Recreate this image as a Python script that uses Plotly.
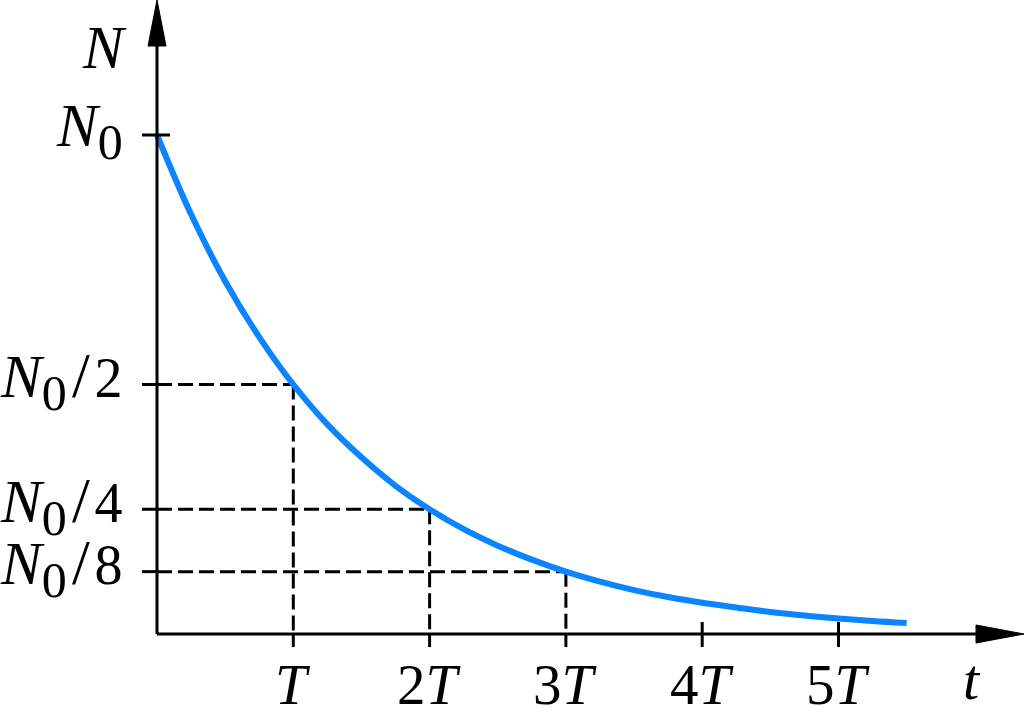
import plotly.graph_objects as go

# ---- data (in units of T and N0) ----
t_vals = [0, 0.25, 0.5, 0.75, 1, 1.25, 1.5, 1.75, 2, 2.25, 2.5, 2.75, 3,
          3.25, 3.5, 3.75, 4, 4.25, 4.5, 4.75, 5, 5.25, 5.5]
n_vals = [1.0, 0.841, 0.707, 0.595, 0.5, 0.42, 0.354, 0.297, 0.25, 0.21,
          0.177, 0.149, 0.125, 0.105, 0.088, 0.074, 0.0625, 0.053, 0.044,
          0.037, 0.031, 0.026, 0.022]
half_t = [1, 2, 3]                       # T, 2T, 3T
half_n = [0.5, 0.25, 0.125]              # N0/2, N0/4, N0/8
x_ticks = [1, 2, 3, 4, 5]
x_tick_labels = ["<i>T</i>", "2<i>T</i>", "3<i>T</i>", "4<i>T</i>", "5<i>T</i>"]
y_ticks = [1.0, 0.5, 0.25, 0.125]
y_tick_denoms = ["", "2", "4", "8"]

# pixel scales
PX_X = 136.3   # px per T
PX_Y = 499.0   # px per N0
W, H = 1024, 707
X0, Y0 = 157, 634  # origin in pixels

xr = [-X0 / PX_X, (W - X0) / PX_X]
yr = [-(H - Y0) / PX_Y, Y0 / PX_Y]


def dx(px):
    return px / PX_X


def dy(px):
    return px / PX_Y


fig = go.Figure()
BLACK = "black"
FONT = "Liberation Serif"
DASH = "15px,6px"

# dashed guides
for tt, nn in zip(half_t, half_n):
    fig.add_trace(go.Scatter(x=[0, tt], y=[nn, nn], mode="lines",
                             line=dict(color=BLACK, width=3, dash=DASH),
                             hoverinfo="skip", showlegend=False))
    fig.add_trace(go.Scatter(x=[tt, tt], y=[nn, 0], mode="lines",
                             line=dict(color=BLACK, width=3, dash=DASH),
                             hoverinfo="skip", showlegend=False))

shapes = []
# axes
shapes.append(dict(type="line", xref="x", yref="y", x0=0, y0=0, x1=dx(W - X0 - 30), y1=0,
                   line=dict(color=BLACK, width=3)))
shapes.append(dict(type="line", xref="x", yref="y", x0=0, y0=0, x1=0, y1=dy(Y0 - 30),
                   line=dict(color=BLACK, width=3)))
# arrowheads
xt = dx(W - X0)
shapes.append(dict(type="path", xref="x", yref="y",
                   path=f"M {xt} 0 L {xt - dx(48)} {dy(9)} L {xt - dx(48)} {-dy(9)} Z",
                   fillcolor=BLACK, line=dict(color=BLACK, width=1)))
ytp = dy(Y0)
shapes.append(dict(type="path", xref="x", yref="y",
                   path=f"M 0 {ytp} L {dx(9)} {ytp - dy(46)} L {-dx(9)} {ytp - dy(46)} Z",
                   fillcolor=BLACK, line=dict(color=BLACK, width=1)))
# y ticks
for v in y_ticks:
    x1 = dx(13) if v == 1.0 else 0
    shapes.append(dict(type="line", xref="x", yref="y", x0=-dx(15), y0=v, x1=x1, y1=v,
                       line=dict(color=BLACK, width=3)))
# x ticks
for v in x_ticks:
    y1 = dy(12) if v not in half_t else 0
    shapes.append(dict(type="line", xref="x", yref="y", x0=v, y0=-dy(13), x1=v, y1=y1,
                       line=dict(color=BLACK, width=3)))

# curve
fig.add_trace(go.Scatter(x=t_vals, y=n_vals, mode="lines",
                         line=dict(color="#0a84ff", width=6, shape="spline"),
                         hoverinfo="skip", showlegend=False))

annotations = []
# x tick labels
for v, lab in zip(x_ticks, x_tick_labels):
    annotations.append(dict(x=v, y=-dy(50), xref="x", yref="y", text=lab, showarrow=False,
                            font=dict(family=FONT, size=57, color=BLACK),
                            xanchor="center", yanchor="middle"))
# y tick labels
for v, den in zip(y_ticks, y_tick_denoms):
    txt = "<i>N</i><sub><span style='font-size:50px'>0</span></sub>"
    if den:
        txt += ("<span style='font-size:64px'>&#8202;/</span>"
                f"<span style='font-size:56px'>&#8202;{den}</span>")
    annotations.append(dict(x=-dx(32), y=v + dy(4), xref="x", yref="y", text=txt,
                            showarrow=False, font=dict(family=FONT, size=61, color=BLACK),
                            xanchor="right", yanchor="middle"))
# axis titles
annotations.append(dict(x=-dx(28), y=dy(Y0 - 47), xref="x", yref="y", text="<i>N</i>",
                        showarrow=False, font=dict(family=FONT, size=61, color=BLACK),
                        xanchor="right", yanchor="middle"))
annotations.append(dict(x=dx(972 - X0), y=-dy(45), xref="x", yref="y", text="<i>t</i>",
                        showarrow=False, font=dict(family=FONT, size=58, color=BLACK),
                        xanchor="center", yanchor="middle"))

fig.update_layout(
    width=W, height=H, margin=dict(l=0, r=0, t=0, b=0),
    paper_bgcolor="white", plot_bgcolor="white",
    xaxis=dict(range=xr, visible=False, fixedrange=True),
    yaxis=dict(range=yr, visible=False, fixedrange=True),
    shapes=shapes, annotations=annotations, showlegend=False,
)
fig.write_html("out.html", config={"displayModeBar": False},
               post_script="document.body.style.margin='0';")
